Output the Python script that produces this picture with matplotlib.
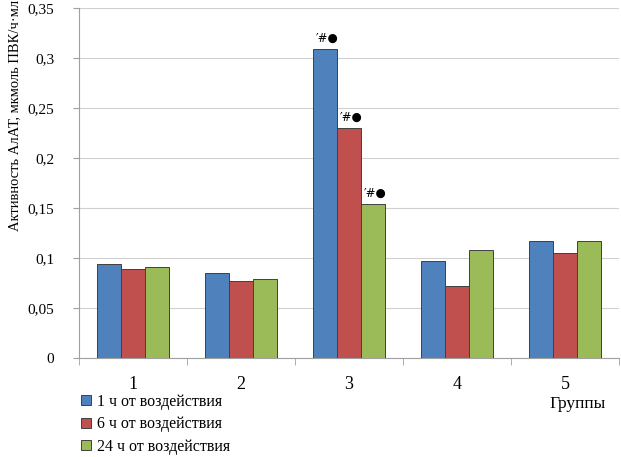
import numpy as np
import matplotlib.pyplot as plt

# --- Данные ---
groups = ["1", "2", "3", "4", "5"]
h1 = [0.094, 0.085, 0.309, 0.097, 0.117]
h6 = [0.089, 0.077, 0.230, 0.072, 0.105]
h24 = [0.091, 0.079, 0.154, 0.108, 0.117]
series_labels = ["1 ч от воздействия", "6 ч от воздействия", "24 ч от воздействия"]
colors = ["#4f81bd", "#c0504d", "#9bbb59"]
yticks = [0, 0.05, 0.1, 0.15, 0.2, 0.25, 0.3, 0.35]
ytick_labels = ["0", "0,05", "0,1", "0,15", "0,2", "0,25", "0,3", "0,35"]
marks = {2: "′#●"}

plt.rcParams['font.family'] = ['Liberation Serif', 'DejaVu Sans']

fig = plt.figure(figsize=(6.21, 4.57), dpi=100)
ax = fig.add_axes([79/621, 1 - 358/457, 540/621, 350/457])

x = np.arange(len(groups))
w = 0.222
for i, (vals, lab, c) in enumerate(zip([h1, h6, h24], series_labels, colors)):
    pos = x + (i - 1) * w
    ax.bar(pos, vals, width=w, color=c, edgecolor="#404040", linewidth=0.7,
           label=lab, zorder=3)
    for j, v in enumerate(vals):
        if j in marks:
            ax.text(pos[j] + 0.02, v + 0.004, marks[j], ha="center", va="bottom",
                    fontsize=8.5, family=['DejaVu Sans'])

ax.set_xlim(-0.5, len(groups) - 0.5)
ax.set_ylim(0, 0.35)
ax.set_yticks(yticks)
ax.set_yticklabels(ytick_labels, fontsize=11)
ax.set_xticks(x)
ax.set_xticklabels(groups, fontsize=13)
ax.set_xticks(np.arange(-0.5, len(groups)), minor=True)
ax.tick_params(axis="x", which="major", length=0, pad=13)
ax.tick_params(axis="x", which="minor", length=5, color="#a0a0a0")
ax.tick_params(axis="y", length=4, color="#a0a0a0", pad=14)
ax.grid(axis="y", color="#d0d0d0", linewidth=0.8, zorder=0)
for s in ["top", "right"]:
    ax.spines[s].set_visible(False)
for s in ["left", "bottom"]:
    ax.spines[s].set_color("#a0a0a0")

fig.text(15/621, 1 - 115/457, "Активность АлАТ, мкмоль ПВК/ч·мл", rotation=90,
         ha="center", va="center", fontsize=10.5)
fig.text(578/621, 1 - 404/457, "Группы", ha="center", va="center", fontsize=12.5)

fig.legend(loc="upper left", bbox_to_anchor=(81/621, 1 - 394/457), frameon=False,
           fontsize=11.5, handlelength=0.6, handleheight=0.6, handletextpad=0.4,
           labelspacing=0.4, borderaxespad=0, borderpad=0)

fig.savefig("out.png", dpi=100)
